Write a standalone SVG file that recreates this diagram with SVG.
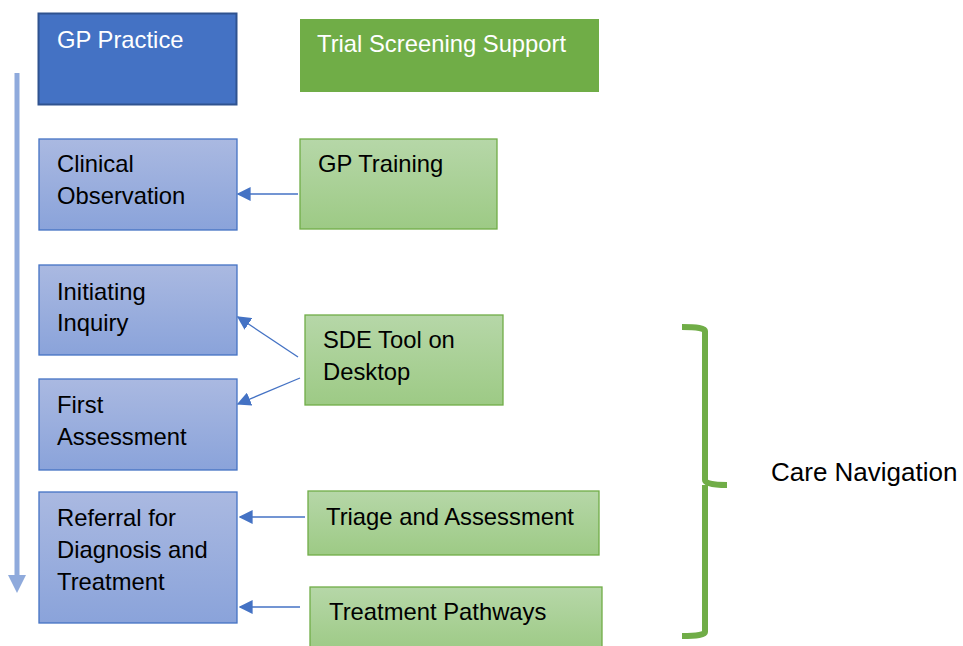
<svg xmlns="http://www.w3.org/2000/svg" width="963" height="646" viewBox="0 0 963 646">
<defs>
<linearGradient id="gb" x1="0" y1="0" x2="0" y2="1"><stop offset="0" stop-color="#aab9e1"/><stop offset="1" stop-color="#8aa3da"/></linearGradient>
<linearGradient id="gg" x1="0" y1="0" x2="0" y2="1"><stop offset="0" stop-color="#b6d7a8"/><stop offset="1" stop-color="#9dca85"/></linearGradient>
<marker id="ah" viewBox="0 0 10 10" refX="9" refY="5" markerWidth="14" markerHeight="14" markerUnits="userSpaceOnUse" orient="auto"><path d="M0,0 L10,5 L0,10 z" fill="#4472c4"/></marker>
<style>
text{font-family:"Liberation Sans",Arial,sans-serif;font-size:23.8px;fill:#000}
.w{fill:#fff}
.b{fill:url(#gb);stroke:#4472c4;stroke-width:1.3}
.g{fill:url(#gg);stroke:#70ad47;stroke-width:1.3}
.c{stroke:#4472c4;stroke-width:1.3;fill:none;marker-end:url(#ah)}
</style>
</defs>
<g id="gp-practice"><rect x="38.5" y="13.5" width="198" height="91" fill="#4472c4" stroke="#2f528f" stroke-width="2"/><text x="57" y="48" class="w">GP Practice</text></g>
<g id="trial-screening"><rect x="300" y="19" width="299" height="73" fill="#70ad47"/><text x="317" y="52" class="w">Trial Screening Support</text></g>
<g id="timeline"><line x1="17" y1="73" x2="17" y2="578" stroke="#8faadc" stroke-width="5"/><path d="M8,575 L26,575 L17,593 z" fill="#8faadc"/></g>
<g id="clinical-observation"><rect x="39" y="139" width="198" height="91" class="b"/><text x="57" y="172">Clinical</text><text x="57" y="204">Observation</text></g>
<g id="initiating-inquiry"><rect x="39" y="265" width="198" height="90" class="b"/><text x="57" y="300">Initiating</text><text x="57" y="331">Inquiry</text></g>
<g id="first-assessment"><rect x="39" y="379" width="198" height="91" class="b"/><text x="57" y="413">First</text><text x="57" y="445">Assessment</text></g>
<g id="referral"><rect x="39" y="492" width="198" height="131" class="b"/><text x="57" y="526">Referral for</text><text x="57" y="558">Diagnosis and</text><text x="57" y="590">Treatment</text></g>
<g id="gp-training"><rect x="300" y="139" width="197" height="90" class="g"/><text x="318" y="172">GP Training</text></g>
<g id="sde-tool"><rect x="305" y="315" width="198" height="90" class="g"/><text x="323" y="348">SDE Tool on</text><text x="323" y="380">Desktop</text></g>
<g id="triage"><rect x="308" y="491" width="291" height="64" class="g"/><text x="326" y="525">Triage and Assessment</text></g>
<g id="treatment-pathways"><rect x="310" y="587" width="292" height="65" class="g"/><text x="329" y="620">Treatment Pathways</text></g>
<g id="connectors">
<line x1="298" y1="194" x2="238" y2="194" class="c"/>
<line x1="298" y1="357" x2="238" y2="317" class="c"/>
<line x1="300" y1="378" x2="238" y2="404" class="c"/>
<line x1="305" y1="517" x2="240" y2="517" class="c"/>
<line x1="300" y1="607" x2="240" y2="607" class="c"/>
</g>
<g id="care-navigation"><path d="M682,327 Q705,327 705,331 L705,480 Q705,485 727,485 M705,485 Q705,487 705,492 L705,632 Q705,636 682,636" fill="none" stroke="#70ad47" stroke-width="6"/><text x="771" y="481" style="font-size:26px">Care Navigation</text></g>
</svg>
